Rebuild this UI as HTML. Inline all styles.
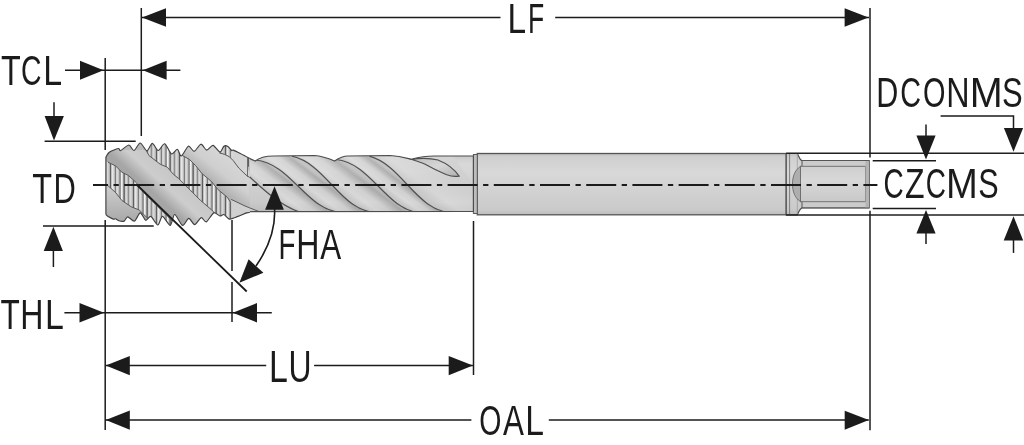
<!DOCTYPE html>
<html><head><meta charset="utf-8"><style>
html,body{margin:0;padding:0;background:#fff;width:1024px;height:445px;overflow:hidden}
svg{display:block}
text{font-family:"Liberation Sans",sans-serif;fill:#1b1b1b}
.tx{will-change:transform}
</style></head><body>
<svg width="1024" height="445" viewBox="0 0 1024 445">
<defs>
  <linearGradient id="gShank" x1="0" y1="0" x2="0" y2="1">
    <stop offset="0" stop-color="#c2c2c2"/>
    <stop offset="0.06" stop-color="#d0d0d0"/>
    <stop offset="0.3" stop-color="#d8d8d8"/>
    <stop offset="0.6" stop-color="#d2d2d2"/>
    <stop offset="0.92" stop-color="#cacaca"/>
    <stop offset="1" stop-color="#bcbcbc"/>
  </linearGradient>
  <linearGradient id="gFlute" x1="0" y1="0" x2="0" y2="1">
    <stop offset="0" stop-color="#bcbcbc"/>
    <stop offset="0.2" stop-color="#d6d6d6"/>
    <stop offset="0.5" stop-color="#d2d2d2"/>
    <stop offset="0.85" stop-color="#c6c6c6"/>
    <stop offset="1" stop-color="#b0b0b0"/>
  </linearGradient>
  <linearGradient id="gLand" x1="0" y1="0" x2="1" y2="1">
    <stop offset="0" stop-color="#9e9e9e"/>
    <stop offset="0.4" stop-color="#bdbdbd"/>
    <stop offset="1" stop-color="#a5a5a5"/>
  </linearGradient>
  <linearGradient id="gLandB" gradientUnits="userSpaceOnUse" x1="150" y1="190" x2="170" y2="168">
    <stop offset="0" stop-color="#a6a6a6"/>
    <stop offset="0.45" stop-color="#cdcdcd"/>
    <stop offset="1" stop-color="#c6c6c6"/>
  </linearGradient>
  <linearGradient id="gLandD" gradientUnits="userSpaceOnUse" x1="212" y1="192" x2="236" y2="162">
    <stop offset="0" stop-color="#a2a2a2"/>
    <stop offset="0.55" stop-color="#cfcfcf"/>
    <stop offset="1" stop-color="#d6d6d6"/>
  </linearGradient>
  <linearGradient id="gLandZ" gradientUnits="userSpaceOnUse" x1="110" y1="190" x2="110" y2="222">
    <stop offset="0" stop-color="#cacaca"/>
    <stop offset="1" stop-color="#a8a8a8"/>
  </linearGradient>
  <linearGradient id="gSq" x1="0" y1="0" x2="0" y2="1"><stop offset="0" stop-color="#cfcfcf"/><stop offset="0.4" stop-color="#d8d8d8"/><stop offset="1" stop-color="#c8c8c8"/></linearGradient>
  <pattern id="pStripe" patternUnits="userSpaceOnUse" width="23" height="10"><rect width="23" height="10" fill="#bababa"/><rect x="0.00" width="0.99" height="10" fill="#7c7c7c"/><rect x="1.24" width="2.10" height="10" fill="#d8d8d8"/><rect x="4.57" width="0.85" height="10" fill="#5f5f5f"/><rect x="5.98" width="1.56" height="10" fill="#f0f0f0"/><rect x="8.38" width="1.60" height="10" fill="#6e6e6e"/><rect x="10.39" width="1.66" height="10" fill="#d8d8d8"/><rect x="13.29" width="0.92" height="10" fill="#7c7c7c"/><rect x="14.47" width="2.11" height="10" fill="#d8d8d8"/><rect x="17.93" width="1.34" height="10" fill="#5f5f5f"/><rect x="19.53" width="2.15" height="10" fill="#e6e6e6"/></pattern>
  <clipPath id="cThread">
    <path id="threadPath" d="M105.9,157.1 C106.3,156.5 107.9,153.4 109.0,152.5 C110.1,151.6 112.7,150.5 114.0,150.0 C115.3,149.5 117.9,148.4 118.8,148.5 C119.6,148.6 119.3,151.0 120.7,150.5 C122.1,150.0 127.1,145.0 128.9,145.0 C130.7,145.0 132.5,150.8 134.0,150.5 C135.5,150.2 138.5,143.0 140.2,143.0 C141.9,143.0 145.3,150.7 146.9,150.8 C148.5,150.9 150.8,143.4 152.3,143.4 C153.8,143.4 156.5,150.4 158.2,150.5 C159.9,150.6 162.9,143.3 164.7,143.8 C166.5,144.3 169.8,153.3 171.5,154.0 C173.2,154.7 176.1,149.0 177.4,149.3 C178.7,149.6 179.8,156.4 181.3,156.0 C182.8,155.6 186.7,146.8 188.4,146.2 C190.1,145.6 192.5,151.6 194.2,151.3 C195.9,151.0 199.2,144.4 200.9,144.2 C202.6,144.1 205.1,149.9 206.7,150.1 C208.3,150.3 211.2,145.1 213.0,145.4 C214.8,145.7 218.5,151.9 220.0,152.0 C221.5,152.1 222.9,146.9 223.9,146.2 C224.9,145.5 226.8,145.8 227.8,146.4 C228.8,147.0 231.0,150.0 231.7,150.5 C232.4,151.0 232.2,149.7 233.3,150.1 C234.4,150.5 238.1,152.5 240.3,153.6 C242.5,154.7 248.5,157.9 249.8,158.6 L249.8,212.5 C249.4,212.6 248.2,212.4 246.6,212.9 C245.0,213.4 240.3,215.6 238.0,216.4 C235.7,217.2 231.3,219.4 229.4,219.1 C227.5,218.8 225.2,214.9 223.9,214.5 C222.6,214.1 221.4,216.2 220.0,216.0 C218.6,215.8 215.6,212.1 213.8,212.9 C211.9,213.7 208.0,221.3 206.3,221.9 C204.6,222.5 202.8,217.2 201.2,217.6 C199.7,218.0 196.3,224.5 194.6,224.6 C192.9,224.7 190.4,218.3 188.8,218.4 C187.1,218.5 184.4,225.9 182.5,225.4 C180.6,224.9 176.3,214.5 174.7,214.5 C173.1,214.5 171.9,225.1 170.3,225.4 C168.7,225.7 164.2,216.5 162.5,216.4 C160.8,216.3 159.4,225.0 157.8,225.0 C156.2,225.0 152.4,217.0 150.8,216.4 C149.2,215.8 147.1,220.8 145.7,220.3 C144.3,219.8 141.7,212.8 140.2,212.9 C138.7,213.0 136.1,220.6 134.4,221.1 C132.7,221.6 129.1,216.8 127.7,216.8 C126.3,216.8 125.4,220.6 124.2,221.1 C123.0,221.6 119.9,221.0 118.8,220.7 C117.6,220.4 116.3,219.0 115.6,218.8 C114.9,218.5 114.2,219.4 113.3,219.1 C112.4,218.8 109.6,217.4 108.6,216.8 C107.6,216.2 106.3,214.8 105.9,214.5 Z"/>
  </clipPath>
  <filter id="fBlur" x="-20%" y="-20%" width="140%" height="140%"><feGaussianBlur stdDeviation="2.5"/></filter>
  <clipPath id="cFlute">
    <path d="M247.7,158.4 L249.8,158.6 L255.3,161 C260,157 266,156 273.8,156 L314.3,155.5 C322,156 330,159 334.6,161 C339,158 343,156 348,156 L390,155.5 C400,156 406,158 411.1,159.3 C420,157 428,156 433.9,156 L473.4,156 L473.4,211.5 L247.7,211.6 Z"/>
  </clipPath>
</defs>

<!-- shank -->
<rect x="477.3" y="153.5" width="309" height="61.3" fill="url(#gShank)" stroke="#555" stroke-width="1.3"/>
<rect x="473.4" y="154.5" width="3.9" height="59" fill="#bdbdbd" stroke="#5a5a5a" stroke-width="1"/>

<!-- end square drive -->
<path d="M786.2,153.5 L797.3,153.5 C799,156 799.5,160 802,160.5 L869,160.5 L869,207.8 L802,207.8 C799.5,208.5 799,212 797.3,214.8 L786.2,214.8 Z" fill="url(#gShank)" stroke="#4d4d4d" stroke-width="1.2"/>
<rect x="802" y="160.5" width="67" height="47.3" fill="#cbcbcb" stroke="#555" stroke-width="1"/>
<line x1="789.6" y1="154" x2="789.6" y2="214.3" stroke="#777" stroke-width="0.9"/>
<line x1="797.3" y1="154" x2="797.3" y2="214.3" stroke="#999" stroke-width="0.7"/>
<path d="M800.5,166.3 C795,170 792.5,176 792.5,184 C792.5,192 795,198 800.5,201.7 Z" fill="#aeaeae" stroke="#6a6a6a" stroke-width="0.9"/>
<rect x="800.5" y="166.3" width="65" height="35.4" fill="url(#gSq)" stroke="#6a6a6a" stroke-width="0.9"/>
<rect x="865.5" y="161" width="3.5" height="46.3" fill="#b4b4b4"/>
<line x1="786.2" y1="153.3" x2="1024" y2="153.3" stroke="#1f1f1f" stroke-width="1.5"/>
<line x1="786.2" y1="215" x2="1024" y2="215" stroke="#1f1f1f" stroke-width="1.5"/>

<!-- flute body -->
<defs><linearGradient id="gR1" gradientUnits="userSpaceOnUse" x1="259.2" y1="185.7" x2="273.7" y2="166.4"><stop offset="0" stop-color="#c8c8c8"/><stop offset="0.25" stop-color="#dadada"/><stop offset="0.55" stop-color="#d2d2d2"/><stop offset="0.85" stop-color="#acacac"/><stop offset="1" stop-color="#c0c0c0"/></linearGradient><linearGradient id="gR2" gradientUnits="userSpaceOnUse" x1="299.4" y1="187.5" x2="312.1" y2="170.6"><stop offset="0" stop-color="#c8c8c8"/><stop offset="0.25" stop-color="#dadada"/><stop offset="0.55" stop-color="#d2d2d2"/><stop offset="0.85" stop-color="#acacac"/><stop offset="1" stop-color="#c0c0c0"/></linearGradient><linearGradient id="gR3" gradientUnits="userSpaceOnUse" x1="334.7" y1="187.9" x2="350.3" y2="167.1"><stop offset="0" stop-color="#c8c8c8"/><stop offset="0.25" stop-color="#dadada"/><stop offset="0.55" stop-color="#d2d2d2"/><stop offset="0.85" stop-color="#acacac"/><stop offset="1" stop-color="#c0c0c0"/></linearGradient><linearGradient id="gR4" gradientUnits="userSpaceOnUse" x1="378.1" y1="186.0" x2="389.6" y2="170.7"><stop offset="0" stop-color="#c8c8c8"/><stop offset="0.25" stop-color="#dadada"/><stop offset="0.55" stop-color="#d2d2d2"/><stop offset="0.85" stop-color="#acacac"/><stop offset="1" stop-color="#c0c0c0"/></linearGradient><linearGradient id="gR5" gradientUnits="userSpaceOnUse" x1="410.1" y1="187.7" x2="431.5" y2="159.0"><stop offset="0" stop-color="#c8c8c8"/><stop offset="0.3" stop-color="#d8d8d8"/><stop offset="1" stop-color="#d0d0d0"/></linearGradient>
<linearGradient id="gVert" x1="0" y1="0" x2="0" y2="1"><stop offset="0" stop-color="#fff" stop-opacity="0.1"/><stop offset="0.3" stop-color="#fff" stop-opacity="0.05"/><stop offset="0.75" stop-color="#000" stop-opacity="0"/><stop offset="1" stop-color="#000" stop-opacity="0.08"/></linearGradient>
<linearGradient id="gTear" x1="0" y1="0" x2="1" y2="1"><stop offset="0" stop-color="#bdbdbd"/><stop offset="0.5" stop-color="#d6d6d6"/><stop offset="1" stop-color="#b0b0b0"/></linearGradient>
</defs>
<g clip-path="url(#cFlute)">
  <rect x="240" y="150" width="240" height="70" fill="url(#gFlute)"/>
  <path d="M221.0,151.0 C247.4,171.8 269.6,202.1 302.0,213.0 L302.0,216 L344.0,216 L344.0,213.0 C305.7,211.5 292.9,164.1 255.5,160.0 L255.5,150 L221.0,150 Z" fill="url(#gR1)"/>
  <path d="M255.5,160.0 C292.9,164.1 305.7,211.5 344.0,213.0 L344.0,216 L380.0,216 L380.0,213.0 C340.5,213.7 328.1,164.3 291.9,156.2 L291.9,150 L255.5,150 Z" fill="url(#gR2)"/>
  <path d="M291.9,156.2 C328.1,164.3 340.5,213.7 380.0,213.0 L380.0,216 L420.0,216 L420.0,213.0 C384.4,208.6 371.8,163.4 336.0,159.5 L336.0,150 L291.9,150 Z" fill="url(#gR3)"/>
  <path d="M336.0,159.5 C371.8,163.4 384.4,208.6 420.0,213.0 L420.0,216 L454.0,216 L454.0,213.0 C415.7,212.0 403.4,165.4 369.2,156.2 L369.2,150 L336.0,150 Z" fill="url(#gR4)"/>
  <path d="M369.2,156.2 C403.4,165.4 415.7,212.0 454.0,213.0 L454.0,216 L480.0,216 L480.0,213.5 C478.6,181.6 464.1,176.1 450.0,150.0 L450.0,150 L369.2,150 Z" fill="url(#gR5)"/>
  <rect x="240" y="150" width="240" height="70" fill="url(#gVert)"/>
  <g fill="none" stroke="#505050" stroke-width="1.2">
    <path d="M221.0,151.0 C247.4,171.8 269.6,202.1 302.0,213.0"/>
    <path d="M255.5,160.0 C292.9,164.1 305.7,211.5 344.0,213.0"/>
    <path d="M291.9,156.2 C328.1,164.3 340.5,213.7 380.0,213.0"/>
    <path d="M336.0,159.5 C371.8,163.4 384.4,208.6 420.0,213.0"/>
    <path d="M369.2,156.2 C403.4,165.4 415.7,212.0 454.0,213.0"/>
    <path d="M411.1,159.3 C420,158 430,158 438,160 C448,164 455,170 459.1,176.1 C455,177 450,176 446,174.5 C438,171 430,167 424.7,164 C420,162 415,160.5 411.1,159.3 Z" fill="url(#gTear)"/>
  </g>
  <line x1="247.5" y1="156" x2="247.5" y2="177" stroke="#6e6e6e" stroke-width="1"/>
  <path d="M231.2,199.4 L245,206 L260,212 L260,220 L231,220 Z" fill="#d0d0d0"/>
  <path d="M231.2,199.4 L245,206 L260,212" fill="none" stroke="#5a5a5a" stroke-width="1"/>
</g>
<path d="M249.8,158.6 L255.3,161 C260,157 266,156 273.8,156 L314.3,155.5 C322,156 330,159 334.6,161 C339,158 343,156 348,156 L390,155.5 C400,156 406,158 411.1,159.3 C420,157 428,156 433.9,156 L473.4,156 L473.4,211.5 L246.9,211.6" fill="none" stroke="#4d4d4d" stroke-width="1.2"/>

<!-- thread section -->
<g clip-path="url(#cThread)">
  <rect x="100" y="140" width="152" height="90" fill="#b9b9b9"/>
  <!-- land Z bottom-left -->
  <path d="M100,180 L107.1,184.9 L115.7,192.7 L122,200.6 L131.4,206.9 L139.3,210 L147.2,217.9 L150,230 L100,230 Z" fill="url(#gLandZ)"/>
  <!-- land B -->
  <path d="M100,150 L146.5,150 L149,155.6 L160.2,164.2 L167.3,167.2 L173.4,174.3 L178.4,178.3 L183.5,183.4 L192.6,192.5 L200.4,200.3 L211.4,209.7 L217.7,216 L222,230 L173.9,230 L173.9,222.6 L167.6,216.3 L158.2,206.9 L145.6,194.3 L136.2,182.5 L128.3,175.4 L122,172.3 L115.7,166 L107.9,162.1 L100,160 Z" fill="url(#gLandB)"/>
  <!-- land D -->
  <path d="M181.5,140 L181.5,155 L189.4,159.4 L195.7,165.7 L202,173.6 L211.4,181.4 L217.7,189.3 L227.2,197.2 L230.3,201.9 L230.3,230 L252,230 L252,176 L246,165.7 L233.3,160.7 L229.4,156.75 L224.7,154.4 L219.2,152.8 L219.2,140 Z" fill="url(#gLandD)"/>
  <!-- band A -->
  <path d="M100,160 L107.9,162.1 L115.7,166 L122,172.3 L128.3,175.4 L136.2,182.5 L145.6,194.3 L158.2,206.9 L167.6,216.3 L173.9,222.6 L173.9,230 L147.2,230 L147.2,217.9 L139.3,210 L131.4,206.9 L122,200.6 L115.7,192.7 L107.1,184.9 L100,180 Z" fill="url(#pStripe)"/>
  <!-- band C -->
  <path d="M146.5,140 L146.5,150 L149,155.6 L160.2,164.2 L167.3,167.2 L173.4,174.3 L178.4,178.3 L183.5,183.4 L192.6,192.5 L200.4,200.3 L211.4,209.7 L217.7,216 L222,230 L230.3,230 L230.3,201.9 L227.2,197.2 L217.7,189.3 L211.4,181.4 L202,173.6 L195.7,165.7 L189.4,159.4 L181.5,155 L181.5,140 Z" fill="url(#pStripe)"/>
  <!-- band E -->
  <path d="M219.2,140 L219.2,152.8 L224.7,154.4 L229.4,156.75 L233.3,160.7 L238.75,168 L246,165.7 L252,168 L252,140 Z" fill="url(#pStripe)"/>
  <path d="M232.5,146 L247.3,155 L247.3,168 L238.75,168 L233.3,160.7 Z" fill="#d4d4d4"/>
  <!-- neck facet bottom -->
  <path d="M231.2,199.4 L245,206 L260,212 L260,230 L231.2,230 Z" fill="#d0d0d0"/>
  <g fill="none" stroke="#5a5a5a" stroke-width="1">
    <path d="M107.9,162.1 L115.7,166 L122,172.3 L128.3,175.4 L136.2,182.5 L145.6,194.3 L158.2,206.9 L167.6,216.3 L173.9,222.6"/>
    <path d="M107.1,184.9 L115.7,192.7 L122,200.6 L131.4,206.9 L139.3,210 L147.2,217.9"/>
    <path d="M146.5,151 L149,155.6 L160.2,164.2 L167.3,167.2 L173.4,174.3 L178.4,178.3 L183.5,183.4 L192.6,192.5 L200.4,200.3 L211.4,209.7 L217.7,216"/>
    <path d="M181.5,155 L189.4,159.4 L195.7,165.7 L202,173.6 L211.4,181.4 L217.7,189.3 L227.2,197.2 L230.3,201.9 L230.3,220"/>
    <path d="M219.2,152.8 L224.7,154.4 L229.4,156.75 L233.3,160.7 L238.75,168 L246,175 L252,179"/>
    <path d="M231.2,199.4 L245,206 L260,212"/>
  </g>
  <line x1="247.5" y1="156" x2="247.5" y2="177" stroke="#6e6e6e" stroke-width="1"/>
</g>
<path d="M105.9,157.1 C106.3,156.5 107.9,153.4 109.0,152.5 C110.1,151.6 112.7,150.5 114.0,150.0 C115.3,149.5 117.9,148.4 118.8,148.5 C119.6,148.6 119.3,151.0 120.7,150.5 C122.1,150.0 127.1,145.0 128.9,145.0 C130.7,145.0 132.5,150.8 134.0,150.5 C135.5,150.2 138.5,143.0 140.2,143.0 C141.9,143.0 145.3,150.7 146.9,150.8 C148.5,150.9 150.8,143.4 152.3,143.4 C153.8,143.4 156.5,150.4 158.2,150.5 C159.9,150.6 162.9,143.3 164.7,143.8 C166.5,144.3 169.8,153.3 171.5,154.0 C173.2,154.7 176.1,149.0 177.4,149.3 C178.7,149.6 179.8,156.4 181.3,156.0 C182.8,155.6 186.7,146.8 188.4,146.2 C190.1,145.6 192.5,151.6 194.2,151.3 C195.9,151.0 199.2,144.4 200.9,144.2 C202.6,144.1 205.1,149.9 206.7,150.1 C208.3,150.3 211.2,145.1 213.0,145.4 C214.8,145.7 218.5,151.9 220.0,152.0 C221.5,152.1 222.9,146.9 223.9,146.2 C224.9,145.5 226.8,145.8 227.8,146.4 C228.8,147.0 231.0,150.0 231.7,150.5 C232.4,151.0 232.2,149.7 233.3,150.1 C234.4,150.5 238.1,152.5 240.3,153.6 C242.5,154.7 248.5,157.9 249.8,158.6" fill="none" stroke="#404040" stroke-width="1.15" stroke-linejoin="round"/>
<path d="M249.8,212.5 C249.4,212.6 248.2,212.4 246.6,212.9 C245.0,213.4 240.3,215.6 238.0,216.4 C235.7,217.2 231.3,219.4 229.4,219.1 C227.5,218.8 225.2,214.9 223.9,214.5 C222.6,214.1 221.4,216.2 220.0,216.0 C218.6,215.8 215.6,212.1 213.8,212.9 C211.9,213.7 208.0,221.3 206.3,221.9 C204.6,222.5 202.8,217.2 201.2,217.6 C199.7,218.0 196.3,224.5 194.6,224.6 C192.9,224.7 190.4,218.3 188.8,218.4 C187.1,218.5 184.4,225.9 182.5,225.4 C180.6,224.9 176.3,214.5 174.7,214.5 C173.1,214.5 171.9,225.1 170.3,225.4 C168.7,225.7 164.2,216.5 162.5,216.4 C160.8,216.3 159.4,225.0 157.8,225.0 C156.2,225.0 152.4,217.0 150.8,216.4 C149.2,215.8 147.1,220.8 145.7,220.3 C144.3,219.8 141.7,212.8 140.2,212.9 C138.7,213.0 136.1,220.6 134.4,221.1 C132.7,221.6 129.1,216.8 127.7,216.8 C126.3,216.8 125.4,220.6 124.2,221.1 C123.0,221.6 119.9,221.0 118.8,220.7 C117.6,220.4 116.3,219.0 115.6,218.8 C114.9,218.5 114.2,219.4 113.3,219.1 C112.4,218.8 109.6,217.4 108.6,216.8 C107.6,216.2 106.3,214.8 105.9,214.5" fill="none" stroke="#404040" stroke-width="1.15" stroke-linejoin="round"/>
<path d="M105.9,157.1 L105.9,214.5" stroke="#404040" stroke-width="1.15"/>

<!-- centerline -->
<line x1="93" y1="185" x2="877.4" y2="185" stroke="#1b1b1b" stroke-width="2" stroke-dasharray="30 5.5 5.3 5.4" stroke-dashoffset="15"/>

<!-- dimension lines -->
<g stroke="#1b1b1b" stroke-width="1.5" fill="none">
  <!-- LF -->
  <line x1="142" y1="17.5" x2="500.5" y2="17.5"/>
  <line x1="555.2" y1="17.5" x2="869" y2="17.5"/>
  <line x1="141.3" y1="8" x2="141.3" y2="136"/>
  <line x1="870" y1="8" x2="870" y2="157.5"/>
  <line x1="870" y1="210.7" x2="870" y2="430.2"/>
  <!-- TCL -->
  <line x1="65" y1="70.3" x2="180.4" y2="70.3"/>
  <line x1="105.2" y1="58" x2="105.2" y2="150"/>
  <line x1="105.2" y1="220" x2="105.2" y2="430"/>
  <!-- TD -->
  <line x1="54" y1="102.3" x2="54" y2="118"/>
  <line x1="44.6" y1="141.3" x2="135.7" y2="141.3"/>
  <line x1="43" y1="226" x2="153.7" y2="226"/>
  <line x1="53.4" y1="249" x2="53.4" y2="267"/>
  <!-- THL -->
  <line x1="64.4" y1="312.7" x2="271.8" y2="312.7"/>
  <line x1="232" y1="220" x2="232" y2="271"/>
  <line x1="232" y1="282" x2="232" y2="322"/>
  <!-- LU -->
  <line x1="105.8" y1="365.5" x2="266.2" y2="365.5"/>
  <line x1="314.1" y1="365.5" x2="472.9" y2="365.5"/>
  <line x1="473.5" y1="221" x2="473.5" y2="375"/>
  <!-- OAL -->
  <line x1="105.8" y1="420" x2="471.4" y2="420"/>
  <line x1="548.8" y1="420" x2="868.8" y2="420"/>
  <!-- FHA -->
  <line x1="137" y1="185" x2="246.7" y2="291.5" stroke-width="1.8"/>
  <path d="M274.5,208 Q276.4,236.5 256,266" stroke-width="1.6"/>
  <!-- right side -->
  <polyline points="940.6,116 1013.5,116 1013.5,130"/>
  <line x1="1013.5" y1="238" x2="1013.5" y2="252.9"/>
  <line x1="926" y1="124.5" x2="926" y2="137"/>
  <line x1="872.7" y1="160.7" x2="936" y2="160.7"/>
  <line x1="872.7" y1="208.4" x2="936" y2="208.4"/>
  <line x1="926" y1="231" x2="926" y2="244"/>
</g>
<g fill="#1b1b1b">
  <polygon points="142,17.5 166,8.2 166,26.8"/>
  <polygon points="868.5,17.5 844.6,8.2 844.6,26.8"/>
  <polygon points="103.5,70.3 80,60.8 80,79.8"/>
  <polygon points="142.8,70.3 166.6,60.8 166.6,79.8"/>
  <polygon points="54,140.5 44.6,116 63.9,116"/>
  <polygon points="53.4,226.8 43.7,251 62.9,251"/>
  <polygon points="104,312.7 79.5,303 79.5,322.4"/>
  <polygon points="232.8,312.7 257,303 257,322.4"/>
  <polygon points="105.8,365.5 129.8,356 129.8,375.2"/>
  <polygon points="472.9,365.5 448.7,356 448.7,375.2"/>
  <polygon points="105.8,420 129.8,410.6 129.8,429.8"/>
  <polygon points="868.8,420 844.7,410.8 844.7,429.8"/>
  <polygon points="274.5,186.2 265.1,209.7 283.9,209.7"/>
  <polygon points="239.4,282.7 248.6,259.2 263.4,272.8"/>
  <polygon points="1013.5,151.7 1003.9,128 1023.1,128"/>
  <polygon points="1013.5,216.2 1003.7,240.6 1023.2,240.6"/>
  <polygon points="926,159.5 916.4,135.5 935.6,135.5"/>
  <polygon points="926,210 916.4,233.5 935.6,233.5"/>
</g>

<g class="tx">
<text y="84.60" font-size="43.17"><tspan x="0.95" textLength="19.72" lengthAdjust="spacingAndGlyphs">T</tspan><tspan x="21.08" textLength="20.52" lengthAdjust="spacingAndGlyphs">C</tspan><tspan x="43.29" textLength="18.87" lengthAdjust="spacingAndGlyphs">L</tspan></text>
<text y="202.60" font-size="42.88"><tspan x="32.35" textLength="19.83" lengthAdjust="spacingAndGlyphs">T</tspan><tspan x="53.53" textLength="22.33" lengthAdjust="spacingAndGlyphs">D</tspan></text>
<text y="329.20" font-size="43.17"><tspan x="0.47" textLength="19.29" lengthAdjust="spacingAndGlyphs">T</tspan><tspan x="20.33" textLength="23.21" lengthAdjust="spacingAndGlyphs">H</tspan><tspan x="44.89" textLength="18.87" lengthAdjust="spacingAndGlyphs">L</tspan></text>
<text y="32.50" font-size="42.30"><tspan x="507.62" textLength="18.62" lengthAdjust="spacingAndGlyphs">L</tspan><tspan x="527.98" textLength="16.21" lengthAdjust="spacingAndGlyphs">F</tspan></text>
<text y="259.00" font-size="42.88"><tspan x="278.58" textLength="16.95" lengthAdjust="spacingAndGlyphs">F</tspan><tspan x="296.33" textLength="23.21" lengthAdjust="spacingAndGlyphs">H</tspan><tspan x="320.14" textLength="20.92" lengthAdjust="spacingAndGlyphs">A</tspan></text>
<text y="381.60" font-size="43.46"><tspan x="268.99" textLength="18.87" lengthAdjust="spacingAndGlyphs">L</tspan><tspan x="288.61" textLength="23.06" lengthAdjust="spacingAndGlyphs">U</tspan></text>
<text y="434.60" font-size="42.44"><tspan x="479.32" textLength="22.14" lengthAdjust="spacingAndGlyphs">O</tspan><tspan x="502.94" textLength="20.92" lengthAdjust="spacingAndGlyphs">A</tspan><tspan x="525.30" textLength="18.75" lengthAdjust="spacingAndGlyphs">L</tspan></text>
<text y="106.50" font-size="41.86"><tspan x="876.25" textLength="22.09" lengthAdjust="spacingAndGlyphs">D</tspan><tspan x="900.26" textLength="20.75" lengthAdjust="spacingAndGlyphs">C</tspan><tspan x="922.90" textLength="22.48" lengthAdjust="spacingAndGlyphs">O</tspan><tspan x="946.31" textLength="23.34" lengthAdjust="spacingAndGlyphs">N</tspan><tspan x="969.74" textLength="32.95" lengthAdjust="spacingAndGlyphs">M</tspan><tspan x="1002.01" textLength="20.65" lengthAdjust="spacingAndGlyphs">S</tspan></text>
<text y="197.80" font-size="43.02"><tspan x="883.50" textLength="20.17" lengthAdjust="spacingAndGlyphs">C</tspan><tspan x="905.04" textLength="19.55" lengthAdjust="spacingAndGlyphs">Z</tspan><tspan x="925.70" textLength="20.17" lengthAdjust="spacingAndGlyphs">C</tspan><tspan x="946.04" textLength="31.83" lengthAdjust="spacingAndGlyphs">M</tspan><tspan x="978.22" textLength="20.42" lengthAdjust="spacingAndGlyphs">S</tspan></text>
</g>
</svg>
</body></html>
